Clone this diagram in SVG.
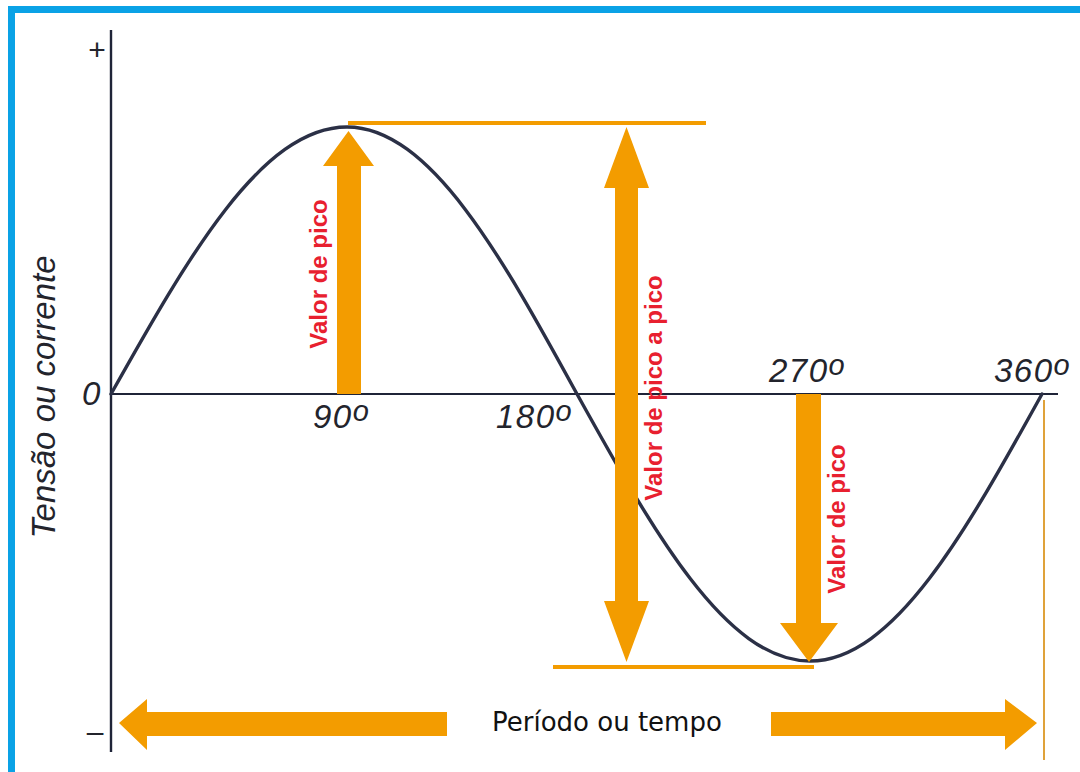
<svg xmlns="http://www.w3.org/2000/svg" width="1080" height="772" viewBox="0 0 1080 772">
  <style>
    .axis { stroke: #1f2438; fill: none; }
    .curve { stroke: #2b3046; stroke-width: 3.4; fill: none; stroke-linecap: round; }
    .arrow { fill: #f39c00; stroke: none; }
    .guide { stroke: #f39c00; stroke-width: 4; }
    .red { font-family: "Liberation Sans", Arial, sans-serif; font-weight: bold; font-size: 24px; fill: #e8202f; text-anchor: middle; }
    .deg { font-family: "Liberation Sans", Arial, sans-serif; font-style: italic; font-size: 33px; fill: #23242c; letter-spacing: 1.5px; }
    .title { font-family: "Liberation Sans", Arial, sans-serif; font-style: italic; font-size: 33px; fill: #23242c; text-anchor: middle; }
    .sup { font-size: 29px; }
    .sign { font-family: "Liberation Sans", Arial, sans-serif; font-size: 30px; fill: #23242c; text-anchor: middle; }
    .plain { font-family: "DejaVu Sans", Verdana, sans-serif; font-size: 26px; fill: #111; }
  </style>
  <rect x="0" y="0" width="1080" height="772" fill="#ffffff"/>
  <g id="frame">
    <rect x="8" y="6" width="1072" height="7" fill="#0aa2e6"/>
    <rect x="8" y="6" width="7" height="766" fill="#0aa2e6"/>
  </g>
  <g id="axes">
    <line class="axis" x1="111" y1="30" x2="111" y2="752" stroke-width="2.4"/>
    <line class="axis" x1="111" y1="394" x2="1058" y2="394" stroke-width="2"/>
    <line x1="1044" y1="400" x2="1044" y2="760" stroke="#dfa23a" stroke-width="2"/>
    <text class="sign" x="97" y="60">+</text>
    <text class="sign" x="95" y="742">–</text>
    <text class="deg" x="82" y="405">0</text>
    <text class="title" x="0" y="0" transform="translate(55,397) rotate(-90)">Tensão ou corrente</text>
  </g>
  <g id="curve">
    <path class="curve" d="M111,394 C188,257.2 261.6,127 347,127 C430.2,127 502,257.2 577,394 C653,530.8 725.7,661 810,661 C894,661 966.3,530.8 1042,394"/>
  </g>
  <g id="degree-labels">
    <text class="deg" x="313" y="428">90<tspan class="sup" dy="-7">o</tspan></text>
    <text class="deg" x="496" y="428">180<tspan class="sup" dy="-7">o</tspan></text>
    <text class="deg" x="769" y="382">270<tspan class="sup" dy="-7">o</tspan></text>
    <text class="deg" x="994" y="382">360<tspan class="sup" dy="-7">o</tspan></text>
  </g>
  <g id="connectors">
    <line class="guide" x1="348" y1="123" x2="706" y2="123"/>
    <line class="guide" x1="553" y1="667" x2="814" y2="667"/>
  </g>
  <g id="peak-arrow">
    <polygon class="arrow" points="337,394 361,394 361,166 374,166 348.5,131 323,166 337,166"/>
    <text class="red" x="0" y="0" transform="translate(327,274) rotate(-90)">Valor de pico</text>
  </g>
  <g id="peak-to-peak-arrow">
    <polygon class="arrow" points="626.5,127 649,188 638,188 638,601 649,601 626.5,662 604,601 615,601 615,188 604,188"/>
    <text class="red" x="0" y="0" transform="translate(662,388) rotate(-90)">Valor de pico a pico</text>
  </g>
  <g id="trough-arrow">
    <polygon class="arrow" points="796,394 821,394 821,623 838,623 809,662 780,623 796,623"/>
    <text class="red" x="0" y="0" transform="translate(845,519) rotate(-90)">Valor de pico</text>
  </g>
  <g id="period">
    <polygon class="arrow" points="447,712 447,736 147,736 147,750 119,723 147,699 147,712"/>
    <polygon class="arrow" points="771,712 1005,712 1005,699 1037,723 1005,750 1005,736 771,736"/>
    <text class="plain" x="492" y="731">Período ou tempo</text>
  </g>
</svg>
